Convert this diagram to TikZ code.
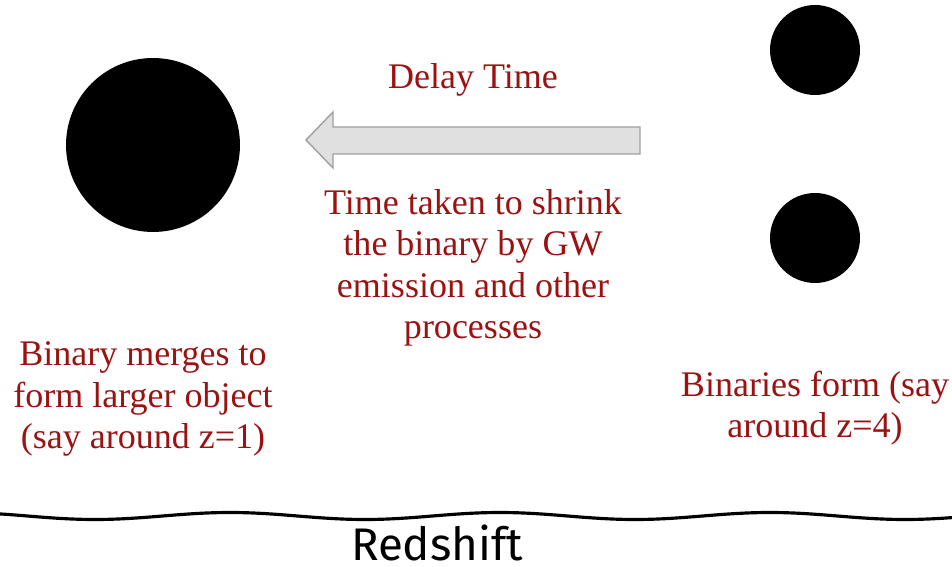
\documentclass[tikz,border=0pt]{standalone}
\usepackage{fontspec}
\setmainfont{Liberation Serif}
\newfontfamily\axisfont{Fira Sans}
\usepackage{xcolor}
\definecolor{notered}{RGB}{155, 18, 18}
\definecolor{arrowfill}{RGB}{224, 224, 224}
\definecolor{arrowline}{RGB}{160, 160, 160}
\usepackage{tikz}
\usetikzlibrary{
  positioning,
  calc
}

\begin{document}
\begin{tikzpicture}[x=0.02cm, y=0.02cm]

  \useasboundingbox (0, 0) rectangle (952, 567);

  \tikzset{
    blob/.style={circle, fill=black, inner sep=0pt},
    note/.style={text=notered, align=center, inner sep=0pt,
                 font=\fontsize{20.5}{23.6}\selectfont}
  }

  % the merged object and the two stars of the binary
  \node[blob, minimum size=3.48cm] (merged) at (153, 422) {};
  \node[blob, minimum size=1.8cm] (starA) at (815, 517) {};
  \node[blob, minimum size=1.8cm] (starB) at (815, 329) {};

  % delay arrow, pointing back in time
  \draw[arrowline, fill=arrowfill, line width=0.8pt, line join=miter]
    (306, 427) -- (333, 455) -- (333, 440) -- (640, 440)
    -- (640, 413) -- (333, 413) -- (333, 399) -- cycle;

  % labels
  \node[note] (delay) at (473, 487) {Delay Time};
  \node[note] (shrink) at (473, 299) {Time taken to shrink\\the binary by GW\\emission and other\\processes};
  \node[note] (merge) at (143, 168) {Binary merges to\\form larger object\\(say around z=1)};
  \node[note] (form) at (815, 159) {Binaries form (say\\around z=4)};

  % redshift axis (period 270, so 360/270 = 1.3333 deg per unit)
  \draw[line width=1.8pt, line cap=round]
    plot[smooth, domain=-5:957, samples=80] (\x, {51 + 3.5*sin(1.3333*(\x-162.5))});
  \node[font=\axisfont\fontsize{26}{30}\selectfont, inner sep=0pt] (axis) at (437, 24) {Redshift};

\end{tikzpicture}
\end{document}
